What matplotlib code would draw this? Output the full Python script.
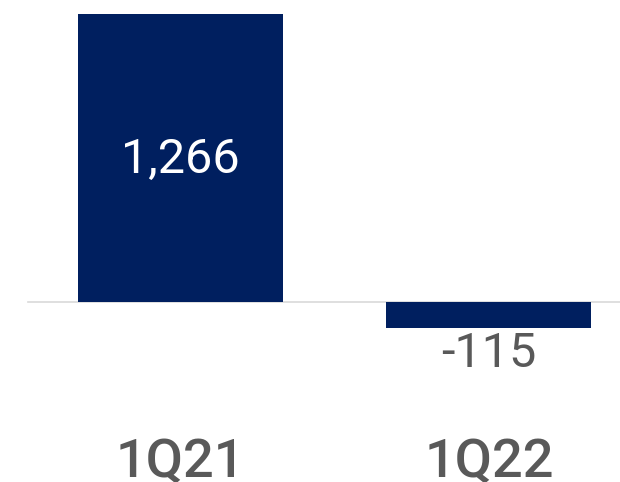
import matplotlib.pyplot as plt

plt.rcParams['font.family'] = ['Roboto', 'DejaVu Sans']

periods = ["1Q21", "1Q22"]
values = [1266, -115]
labels = ["1,266", "-115"]

navy = "#001f5f"
grey = "#595959"

fig = plt.figure(figsize=(6.2, 4.82), dpi=100)
ax = fig.add_axes([0, 72 / 482, 1, 410 / 482])

x = list(range(len(periods)))
ax.bar(x, values, width=0.665, color=navy, zorder=2)
ax.axhline(0, xmin=0.045, xmax=1, color="#d9d9d9", lw=1.2, zorder=1)

ax.set_xlim(-0.585, 1.425)
ax.set_ylim(-475, 1327)

# value labels
ax.text(x[0], values[0] / 2 - 10, labels[0], ha="center", va="center",
        color="white", fontsize=35)
ax.text(x[1], values[1] - 115, labels[1], ha="center", va="center",
        color=grey, fontsize=35)

ax.set_xticks(x)
ax.set_xticklabels(periods, fontsize=39, color=grey, fontweight="medium")
ax.tick_params(axis="x", length=0, pad=20)
ax.set_yticks([])
for s in ax.spines.values():
    s.set_visible(False)

fig.savefig("out.png", dpi=100)
